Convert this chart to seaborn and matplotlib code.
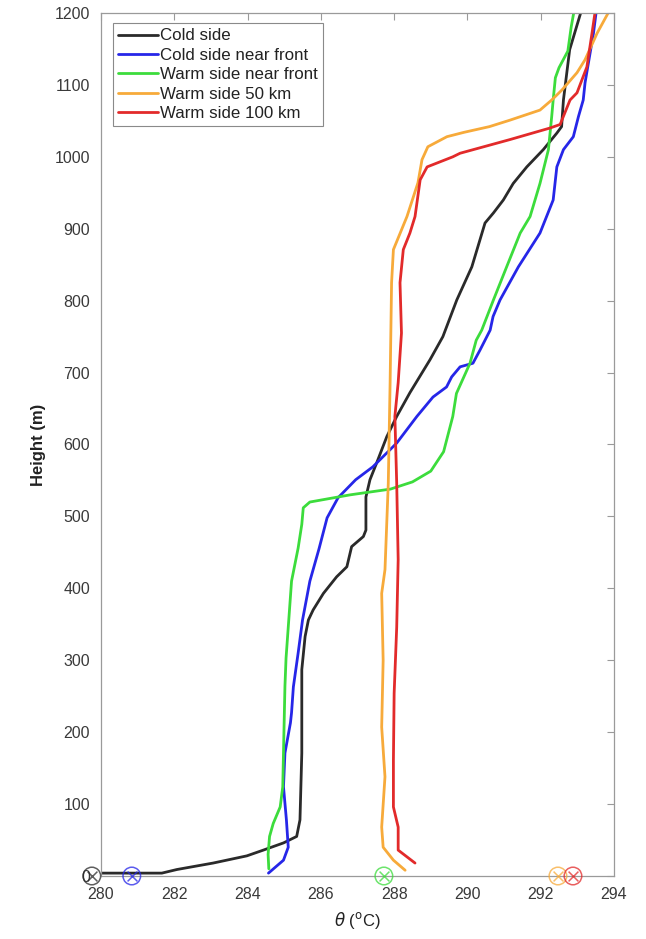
import numpy as np
import pandas as pd
import matplotlib
matplotlib.use("Agg")
import matplotlib.pyplot as plt
import seaborn as sns

# ---------------- data ----------------
series_names = ["Cold side", "Cold side near front", "Warm side near front",
                "Warm side 50 km", "Warm side 100 km"]
series_colors = ["#2a2a2a", "#2626e8", "#3cdc3c", "#f7aa3a", "#e22a2a"]

cold_theta = [279.75, 281.66, 282.07, 283.06, 283.98, 284.43, 284.98, 285.34, 285.43, 285.48,
              285.48, 285.57, 285.66, 285.79, 286.07, 286.43, 286.71, 286.84, 287.16, 287.23,
              287.23, 287.34, 287.52, 287.80, 288.07, 288.43, 288.98, 289.33, 289.71, 290.12,
              290.48, 290.71, 290.98, 291.25, 291.62, 292.07, 292.44, 292.57, 292.62, 292.79,
              293.09]
cold_h = [4, 4, 9, 18, 28, 36, 46, 55, 78, 171,
          287, 333, 356, 370, 393, 416, 430, 458, 472, 481,
          527, 551, 574, 611, 639, 672, 718, 750, 801, 847,
          908, 922, 940, 963, 986, 1010, 1033, 1042, 1079, 1149,
          1200]

coldfront_theta = [284.57, 284.98, 285.11, 285.06, 284.98, 285.02, 285.17, 285.20, 285.25, 285.38,
                   285.50, 285.70, 285.95, 286.17, 286.47, 286.95, 287.42, 288.07, 288.62, 289.06,
                   289.43, 289.57, 289.80, 290.15, 290.34, 290.62, 290.70, 290.89, 291.39, 291.98,
                   292.34, 292.44, 292.62, 292.89, 293.03, 293.16, 293.21, 293.44, 293.51]
coldfront_h = [4, 22, 40, 78, 124, 171, 213, 227, 263, 310,
               356, 410, 455, 498, 526, 551, 569, 602, 639, 666,
               680, 694, 708, 713, 731, 759, 778, 801, 847, 894,
               940, 986, 1010, 1028, 1056, 1079, 1103, 1172, 1200]

warmfront_theta = [284.58, 284.56, 284.60, 284.70, 284.89, 284.96, 284.98, 285.02, 285.05, 285.20,
                   285.38, 285.48, 285.52, 285.70, 286.80, 287.90, 288.50, 289.00, 289.35, 289.60,
                   289.70, 290.07, 290.24, 290.39, 290.71, 291.07, 291.44, 291.71, 291.98, 292.21,
                   292.30, 292.34, 292.40, 292.50, 292.74, 292.83, 292.90]
warmfront_h = [10, 30, 55, 73, 96, 124, 171, 264, 303, 410,
               456, 489, 512, 520, 530, 538, 548, 563, 590, 639,
               671, 713, 745, 759, 801, 847, 894, 917, 963, 1010,
               1056, 1079, 1110, 1124, 1147, 1180, 1200]

warm50_theta = [288.30, 287.98, 287.70, 287.66, 287.75, 287.66, 287.70, 287.66, 287.75, 287.84,
                287.89, 287.93, 287.98, 288.35, 288.65, 288.76, 288.92, 289.44, 289.90, 290.60,
                291.16, 291.98, 292.30, 292.58, 292.99, 293.21, 293.54, 293.84]
warm50_h = [8, 22, 40, 68, 138, 207, 300, 393, 426, 546,
            686, 825, 871, 917, 964, 996, 1014, 1028, 1034, 1042,
            1051, 1065, 1079, 1093, 1117, 1135, 1172, 1200]

warm100_theta = [288.57, 288.11, 288.11, 287.98, 287.98, 288.00, 288.07, 288.11, 288.07, 288.02,
                 288.11, 288.20, 288.16, 288.25, 288.43, 288.57, 288.71, 288.90, 289.60, 289.80,
                 291.16, 292.25, 292.53, 292.80, 292.99, 293.26, 293.40, 293.48]
warm100_h = [18, 36, 68, 96, 161, 254, 346, 440, 546, 639,
             686, 755, 825, 871, 894, 917, 968, 986, 1000, 1005,
             1024, 1040, 1045, 1079, 1089, 1125, 1172, 1200]

surface_theta = [279.75, 280.84, 287.72, 292.47, 292.88]

x_ticks = [280, 282, 284, 286, 288, 290, 292, 294]
y_ticks = [0, 100, 200, 300, 400, 500, 600, 700, 800, 900, 1000, 1100, 1200]

# ---------------- build table ----------------
thetas = [cold_theta, coldfront_theta, warmfront_theta, warm50_theta, warm100_theta]
heights = [cold_h, coldfront_h, warmfront_h, warm50_h, warm100_h]
frames = []
for name, th, hh in zip(series_names, thetas, heights):
    frames.append(pd.DataFrame({"series": name, "theta": th, "height": hh,
                                "order": np.arange(len(th))}))
df = pd.concat(frames, ignore_index=True)
palette = dict(zip(series_names, series_colors))

# ---------------- plot ----------------
sns.set_style("white")
plt.rcParams["font.family"] = ["Liberation Sans", "DejaVu Sans"]

fig = plt.figure(figsize=(6.46, 9.39), dpi=100)
ax = fig.add_axes([101 / 646, 63 / 939, (614 - 101) / 646, (876 - 13) / 939])

sns.lineplot(data=df, x="theta", y="height", hue="series", hue_order=series_names,
             palette=palette, sort=False, estimator=None, linewidth=2.0, ax=ax)

for th, c in zip(surface_theta, series_colors):
    ax.scatter([th], [0], s=160, facecolors="none", edgecolors=c, linewidths=1.1,
               alpha=0.75, clip_on=False, zorder=5)
    ax.scatter([th], [0], s=50, marker="x", color=c, linewidths=1.1,
               alpha=0.75, clip_on=False, zorder=5)

ax.set_xlim(280, 294)
ax.set_ylim(0, 1200)
ax.set_xticks(x_ticks)
ax.set_yticks(y_ticks)
ax.tick_params(axis="both", which="both", direction="in", length=5, width=0.8,
               color="#9a9a9a", labelsize=11.5, labelcolor="#3a3a3a",
               top=True, right=True, pad=8)
for sp in ax.spines.values():
    sp.set_color("#9a9a9a")
    sp.set_linewidth(0.9)

ax.set_xlabel(r"$\theta$ ($^{\rm o}$C)", fontsize=12, color="#222222", labelpad=6)
ax.set_ylabel("Height (m)", fontsize=12, color="#222222", fontweight="bold", labelpad=6)

handles, labels = ax.get_legend_handles_labels()
leg = ax.legend(handles, labels, loc="upper left", bbox_to_anchor=(0.023, 0.988),
                fontsize=12.2, frameon=True, fancybox=False, framealpha=1,
                edgecolor="#8a8a8a", borderpad=0.3, labelspacing=0.26,
                handlelength=2.35, handletextpad=0.15, borderaxespad=0.0)
leg.get_frame().set_linewidth(0.8)
for t in leg.get_texts():
    t.set_color("#222222")

fig.savefig("out.png", dpi=100)
